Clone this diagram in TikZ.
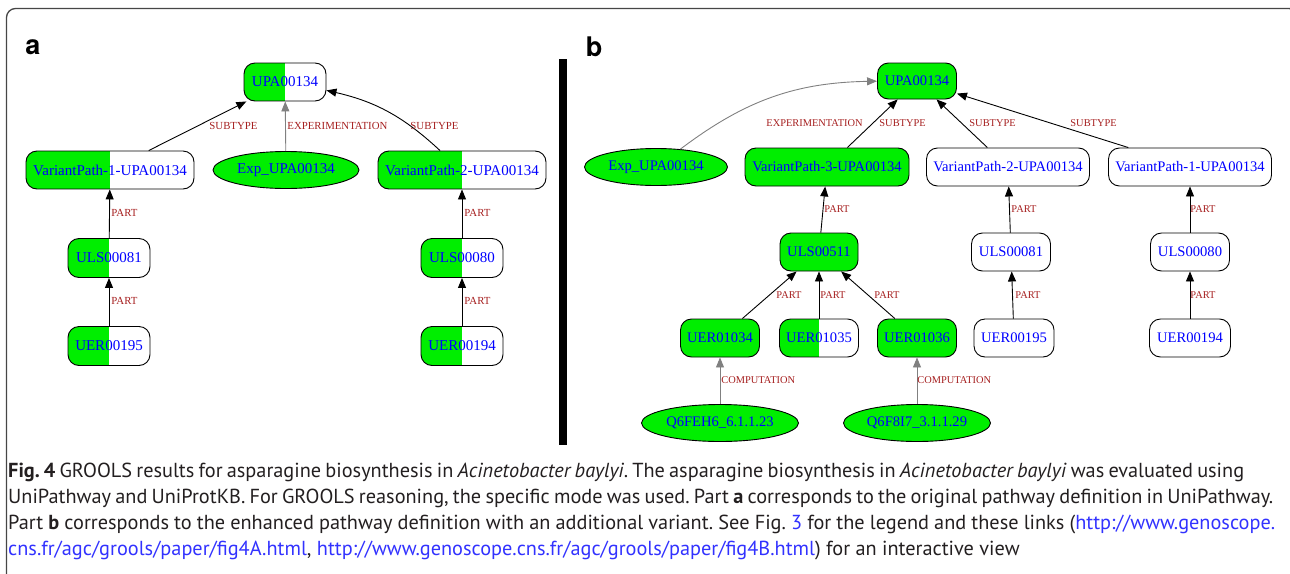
\documentclass[tikz,border=0pt]{standalone}
\usepackage{fontspec}
\usepackage{tikz}
\usetikzlibrary{arrows.meta,shapes.geometric,positioning}
\newfontfamily\graphfont{Liberation Serif}
\newfontfamily\capfont{PT Sans}
\newfontfamily\headfont{TeX Gyre Heros}
\newcommand*{\gsz}{15}
\newcommand*{\lsz}{10.8}
\frenchspacing
\definecolor{grn}{RGB}{0,238,0}
\definecolor{lblred}{RGB}{165,30,30}
\definecolor{linkblue}{RGB}{50,50,255}
\definecolor{capgray}{RGB}{35,31,32}
\definecolor{framegray}{RGB}{70,70,70}
\begin{document}
\begin{tikzpicture}[x=1pt, y=-1pt,
	box/.style={draw, rounded corners=11pt, minimum height=38pt, inner sep=0pt, text=blue, line width=0.9pt, font=\graphfont\fontsize{\gsz}{16}\selectfont},
	half/.style={box, path picture={\fill[grn, sharp corners] (path picture bounding box.south west) rectangle (path picture bounding box.north);}},
	full/.style={box, fill=grn},
	oval/.style={draw, ellipse, fill=grn, minimum height=37pt, inner sep=0pt, text=blue, line width=0.9pt, font=\graphfont\fontsize{\gsz}{16}\selectfont},
	link/.style={-{Triangle[length=10pt,width=8pt]}, line width=0.9pt},
	glink/.style={link, draw=gray},
	lbl/.style={anchor=west, inner sep=0pt, text=lblred, font=\graphfont\fontsize{\lsz}{12}\selectfont},
	head/.style={inner sep=0pt, font=\headfont\bfseries\fontsize{27}{30}\selectfont},
	captext/.style={anchor=base west, inner sep=0pt, text=capgray, font=\capfont\fontsize{20.3}{24}\selectfont}
	]
		\useasboundingbox (0,0) rectangle (1290,573);
		\clip (0,0) rectangle (1290,573);
		\draw[framegray, line width=1.3pt, rounded corners=9pt] (6.5,590) -- (6.5,8.5) -- (1298,8.5) -- (1298,590);
		\fill (559,59) rectangle (567,445);
		
		\node[head] (pa) at (33,47) {a};
		\node[half, minimum width=82pt] (upaA) at (285,82) {UPA00134};
		\node[half, minimum width=168pt] (vp1A) at (110,170) {VariantPath-1-UPA00134};
		\node[oval, minimum width=146pt] (expA) at (286,170) {Exp\_UPA00134};
		\node[half, minimum width=168pt] (vp2A) at (462,170) {VariantPath-2-UPA00134};
		\node[half, minimum width=82pt, minimum height=39pt] (ulsA1) at (109,258) {ULS00081};
		\node[half, minimum width=82pt, minimum height=39pt] (uerA1) at (109,346) {UER00195};
		\node[half, minimum width=82pt, minimum height=39pt] (ulsA2) at (462,258) {ULS00080};
		\node[half, minimum width=82pt, minimum height=39pt] (uerA2) at (462,346) {UER00194};
		\draw[link] (vp1A) -- (upaA) node[lbl] (sA1) at (209,126) {SUBTYPE};
		\draw[glink] (expA) -- (upaA) node[lbl] (eA) at (287,126) {EXPERIMENTATION};
		\draw[link] (vp2A) to[bend right=15] (upaA) node[lbl] (sA2) at (410,126) {SUBTYPE};
		\draw[link] (ulsA1) -- (vp1A) node[lbl] (pA1) at (111,213) {PART};
		\draw[link] (uerA1) -- (ulsA1) node[lbl] (pA2) at (111,301) {PART};
		\draw[link] (ulsA2) -- (vp2A) node[lbl] (pA3) at (464,213) {PART};
		\draw[link] (uerA2) -- (ulsA2) node[lbl] (pA4) at (464,301) {PART};
		
		\renewcommand*{\gsz}{14.6}
		\renewcommand*{\lsz}{10.4}
		\node[head] (pb) at (594,47) {b};
		\node[full, minimum width=79pt, minimum height=36pt] (upaB) at (917,81) {UPA00134};
		\node[oval, minimum width=143pt] (expB) at (656,167) {Exp\_UPA00134};
		\node[full, minimum width=164pt] (vp3B) at (827,167) {VariantPath-3-UPA00134};
		\node[box, minimum width=163pt] (vp2B) at (1008,167) {VariantPath-2-UPA00134};
		\node[box, minimum width=163pt] (vp1B) at (1190,167) {VariantPath-1-UPA00134};
		\node[full, minimum width=78pt] (uls511) at (819,252) {ULS00511};
		\node[box, minimum width=79pt] (ulsB1) at (1011,252) {ULS00081};
		\node[box, minimum width=79pt] (ulsB2) at (1190,252) {ULS00080};
		\node[full, minimum width=79pt] (uer34) at (720,338) {UER01034};
		\node[half, minimum width=79pt] (uer35) at (819,338) {UER01035};
		\node[full, minimum width=79pt] (uer36) at (917,338) {UER01036};
		\node[box, minimum width=80pt] (uerB1) at (1014,338) {UER00195};
		\node[box, minimum width=81pt] (uerB2) at (1190,338) {UER00194};
		\node[oval, minimum width=157pt] (q23) at (720,423) {Q6FEH6\_6.1.1.23};
		\node[oval, minimum width=147pt] (q29) at (917,423) {Q6F8I7\_3.1.1.29};
		\draw[glink] (expB) to[bend left=18] (upaB) node[lbl] (eB) at (766,123) {EXPERIMENTATION};
		\draw[link] (vp3B) -- (upaB) node[lbl] (sB3) at (879,123) {SUBTYPE};
		\draw[link] (vp2B) -- (upaB) node[lbl] (sB2) at (969,123) {SUBTYPE};
		\draw[link] (vp1B) -- (upaB) node[lbl] (sB1) at (1070,123) {SUBTYPE};
		\draw[link] (uls511) -- (vp3B) node[lbl] (pB1) at (824,209) {PART};
		\draw[link] (ulsB1) -- (vp2B) node[lbl] (pB2) at (1011,209) {PART};
		\draw[link] (ulsB2) -- (vp1B) node[lbl] (pB3) at (1190,209) {PART};
		\draw[link] (uer34) -- (uls511) node[lbl] (pB4) at (776,295) {PART};
		\draw[link] (uer35) -- (uls511) node[lbl] (pB5) at (820,295) {PART};
		\draw[link] (uer36) -- (uls511) node[lbl] (pB6) at (874,295) {PART};
		\draw[link] (uerB1) -- (ulsB1) node[lbl] (pB7) at (1015,295) {PART};
		\draw[link] (uerB2) -- (ulsB2) node[lbl] (pB8) at (1190,295) {PART};
		\draw[glink] (q23) -- (uer34) node[lbl] (cB1) at (721,380) {COMPUTATION};
		\draw[glink] (q29) -- (uer36) node[lbl] (cB2) at (917,380) {COMPUTATION};
		
		\node[captext] (c1) at (8,477) {\hbox to 1236pt{\textbf{Fig. 4} GROOLS results for asparagine biosynthesis in \textit{Acinetobacter baylyi}. The asparagine biosynthesis in \textit{Acinetobacter baylyi} was evaluated using}};
		\node[captext] (c2) at (8,503) {\hbox to 1265pt{UniPathway and UniProtKB. For GROOLS reasoning, the specific mode was used. Part \textbf{a} corresponds to the original pathway definition in UniPathway.}};
		\node[captext] (c3) at (8,529) {\hbox to 1267pt{Part \textbf{b} corresponds to the enhanced pathway definition with an additional variant. See Fig. \textcolor{linkblue}{3} for the legend and these links (\textcolor{linkblue}{http://www.genoscope.}}};
		\node[captext] (c4) at (8,555) {\textcolor{linkblue}{cns.fr/agc/grools/paper/fig4A.html}, \textcolor{linkblue}{http://www.genoscope.cns.fr/agc/grools/paper/fig4B.html}) for an interactive view};
\end{tikzpicture}
\end{document}
